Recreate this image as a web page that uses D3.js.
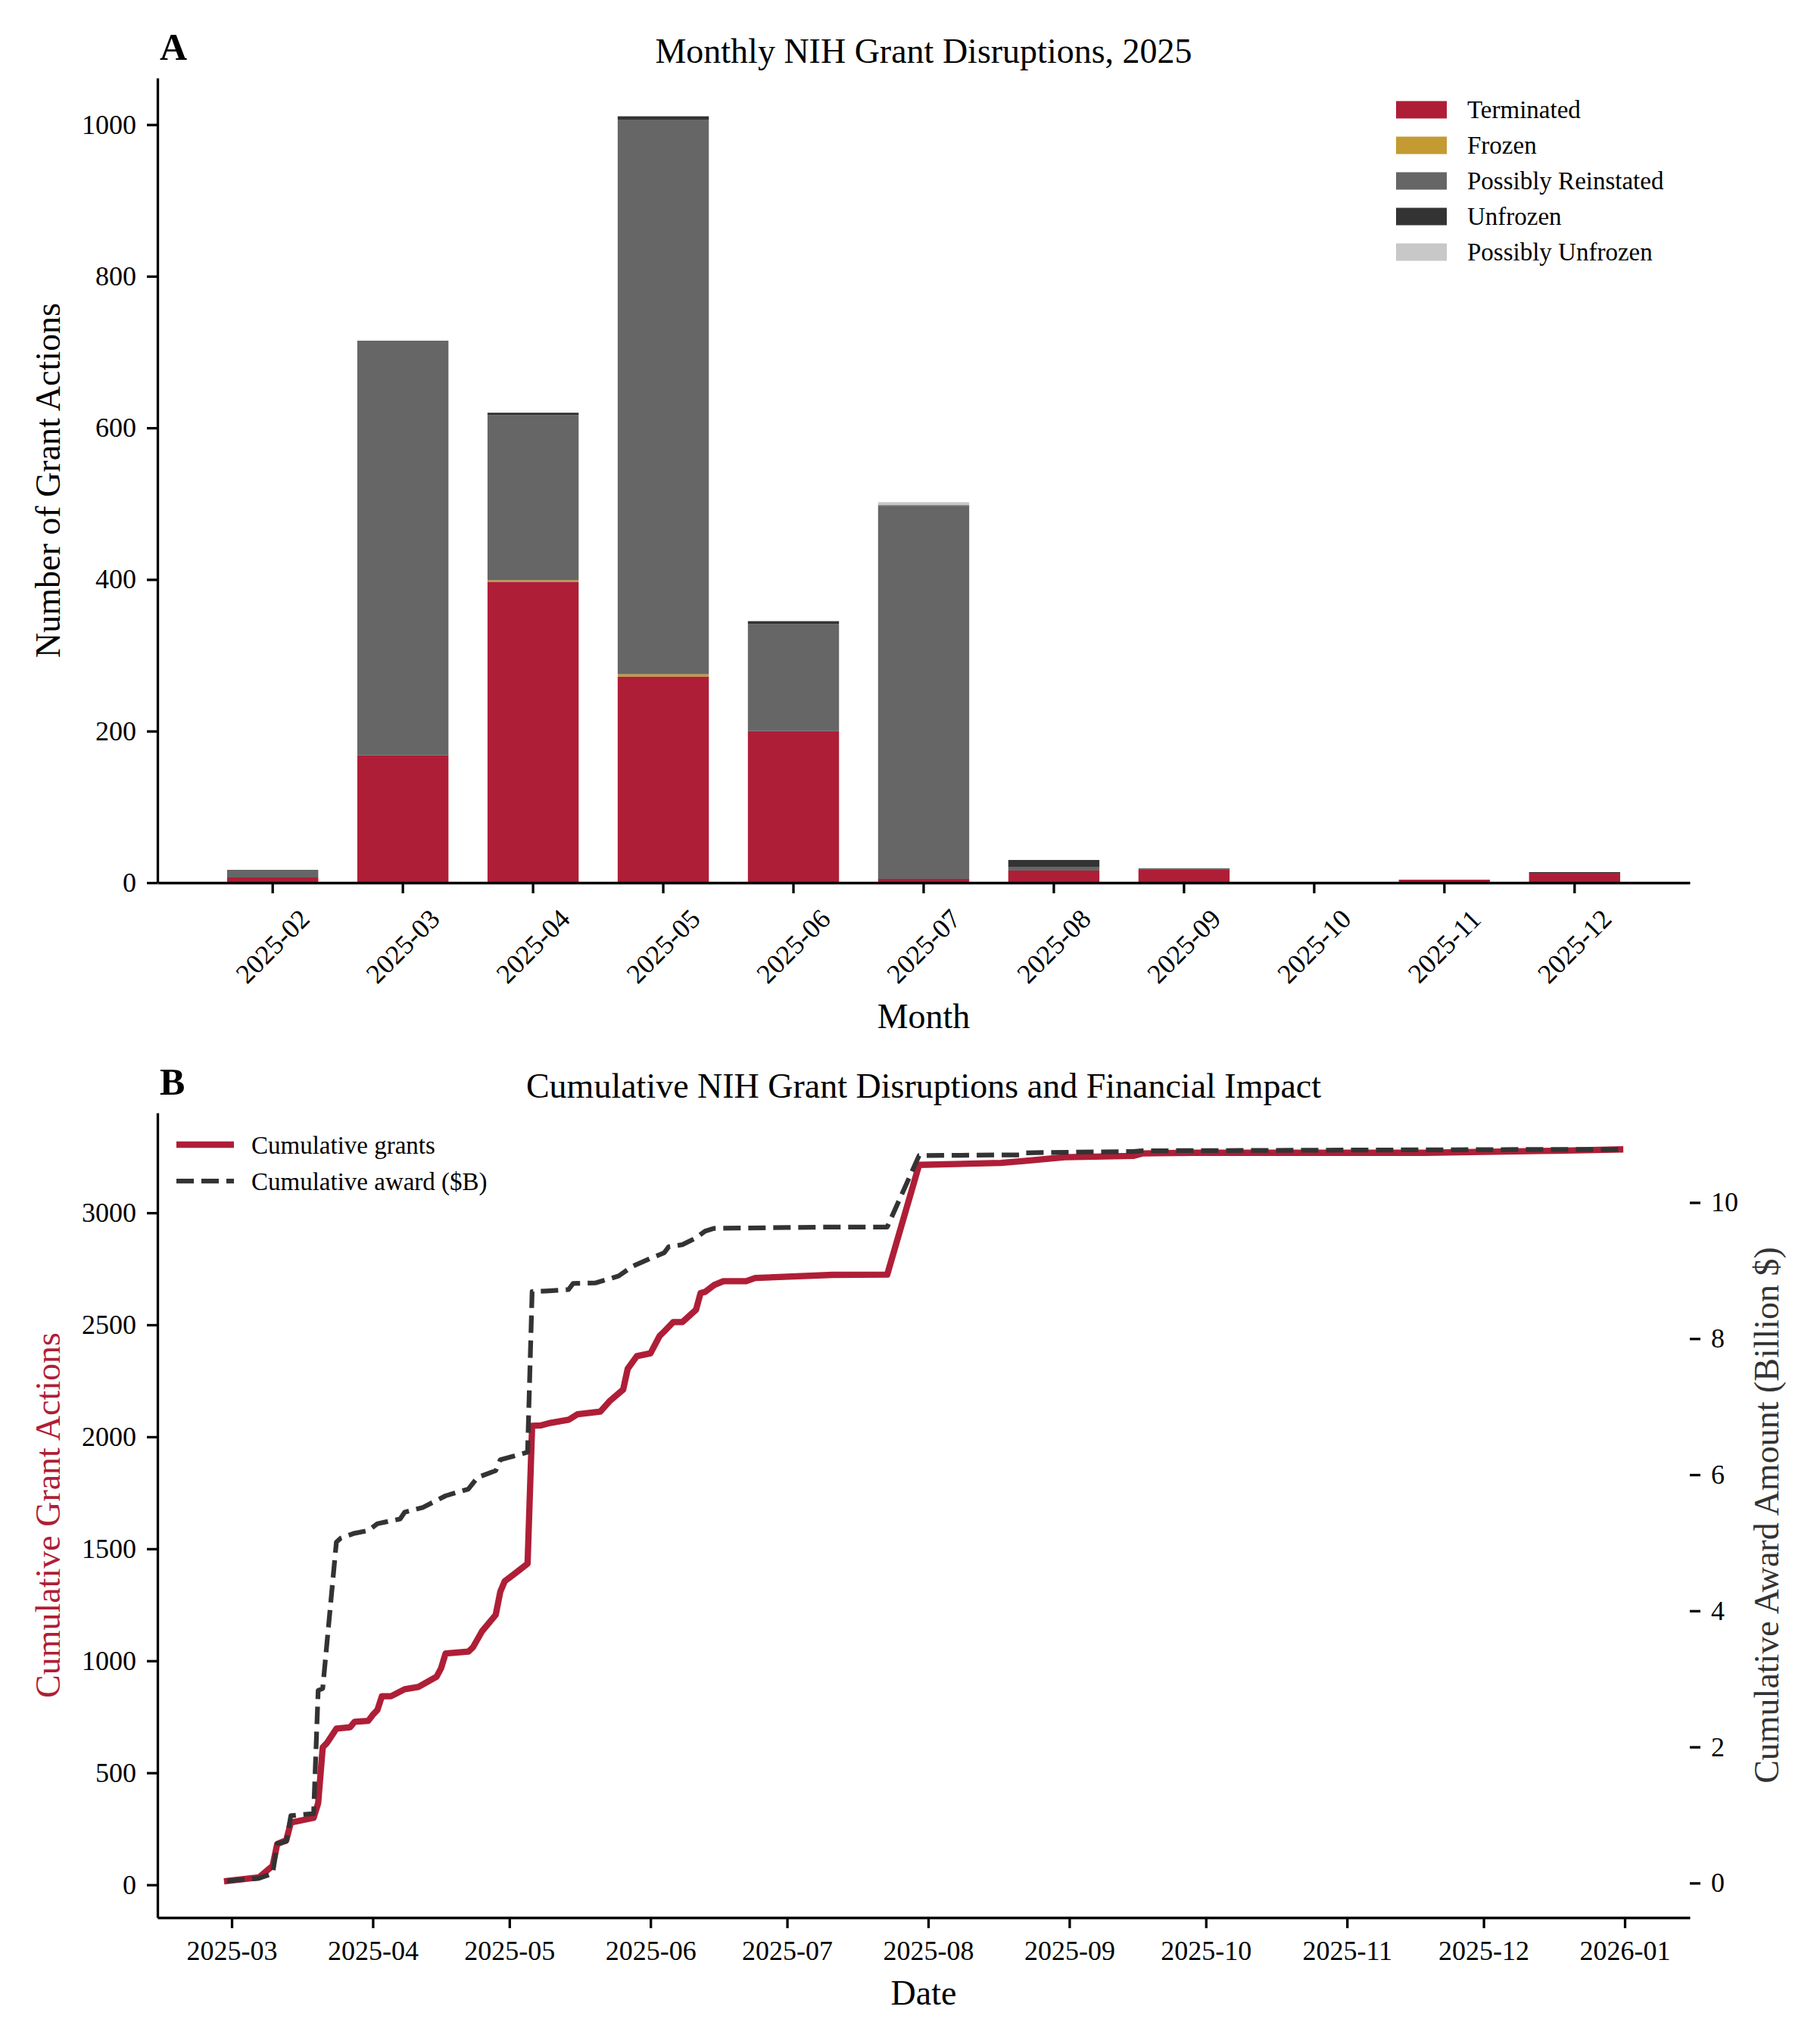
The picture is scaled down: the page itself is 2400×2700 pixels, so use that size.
<!DOCTYPE html>
<html>
<head>
<meta charset="utf-8">
<script src="https://cdn.jsdelivr.net/npm/d3@7"></script>
<style>
  body { margin: 0; background: #fff; }
  svg { display: block; }
</style>
</head>
<body>
<script>
// monthly bars (panel A)
var months = ["2025-02", "2025-03", "2025-04", "2025-05", "2025-06", "2025-07",
  "2025-08", "2025-09", "2025-10", "2025-11", "2025-12"];
var terminated = [7, 168, 397, 272, 200, 5, 16, 17, 0, 4, 13];
var frozen = [0, 0, 2, 3, 0, 0, 0, 0, 0, 0, 0];
var possiblyReinstated = [10, 547, 218, 731, 141, 492, 5, 2, 0, 0, 0];
var unfrozen = [0, 0, 3, 5, 4, 1, 9, 0, 0, 0, 1];
var possiblyUnfrozen = [0, 0, 0, 0, 0, 4, 0, 0, 0, 0, 0];
var yTicksA = [0, 200, 400, 600, 800, 1000];

// cumulative series (panel B)
var grantDates = ["2025-02-28", "2025-03-07", "2025-03-10", "2025-03-11", "2025-03-13", "2025-03-14",
  "2025-03-19", "2025-03-20", "2025-03-21", "2025-03-22", "2025-03-24", "2025-03-27", "2025-03-28",
  "2025-03-31", "2025-04-01", "2025-04-02", "2025-04-03", "2025-04-05", "2025-04-08", "2025-04-11",
  "2025-04-15", "2025-04-16", "2025-04-17", "2025-04-22", "2025-04-23", "2025-04-25", "2025-04-28",
  "2025-04-29", "2025-04-30", "2025-05-01", "2025-05-03", "2025-05-05", "2025-05-06", "2025-05-08",
  "2025-05-10", "2025-05-14", "2025-05-16", "2025-05-21", "2025-05-23", "2025-05-26", "2025-05-27",
  "2025-05-29", "2025-06-01", "2025-06-03", "2025-06-04", "2025-06-06", "2025-06-08", "2025-06-11",
  "2025-06-12", "2025-06-13", "2025-06-15", "2025-06-17", "2025-06-22", "2025-06-24", "2025-07-11",
  "2025-07-23", "2025-07-30", "2025-08-17", "2025-08-22", "2025-08-31", "2025-09-15", "2025-09-17",
  "2025-09-28", "2025-11-18", "2025-12-17", "2025-12-31"];
var cumGrants = [17, 33, 85, 182, 199, 278,
  299, 365, 614, 635, 697, 703, 728,
  732, 759, 780, 842, 842, 873, 883,
  929, 967, 1033, 1041, 1060, 1132, 1205,
  1308, 1356, 1371, 1402, 1434, 2049, 2051,
  2062, 2076, 2101, 2113, 2159, 2211, 2304,
  2360, 2373, 2450, 2470, 2512, 2512, 2567,
  2642, 2647, 2678, 2695, 2695, 2709, 2723,
  2724, 3214, 3223, 3231, 3248, 3254, 3265,
  3268, 3268, 3277, 3283];
var awardDates = ["2025-02-28", "2025-03-07", "2025-03-10", "2025-03-11", "2025-03-13", "2025-03-14",
  "2025-03-19", "2025-03-20", "2025-03-21", "2025-03-24", "2025-03-25", "2025-03-28", "2025-03-31",
  "2025-04-02", "2025-04-07", "2025-04-08", "2025-04-12", "2025-04-17", "2025-04-22", "2025-04-24",
  "2025-04-28", "2025-04-29", "2025-05-05", "2025-05-06", "2025-05-09", "2025-05-14", "2025-05-15",
  "2025-05-20", "2025-05-25", "2025-05-28", "2025-06-01", "2025-06-04", "2025-06-05", "2025-06-08",
  "2025-06-11", "2025-06-13", "2025-06-15", "2025-07-11", "2025-07-23", "2025-07-30", "2025-08-21",
  "2025-08-22", "2025-09-15", "2025-09-17", "2025-12-17", "2025-12-31"];
var cumAward = [0.03, 0.07, 0.14, 0.58, 0.61, 0.99,
  1.02, 2.83, 2.86, 5.01, 5.07, 5.14, 5.18,
  5.28, 5.35, 5.45, 5.52, 5.69, 5.79, 5.96,
  6.06, 6.22, 6.33, 8.69, 8.70, 8.72, 8.81,
  8.82, 8.92, 9.06, 9.18, 9.26, 9.35, 9.38,
  9.48, 9.58, 9.62, 9.64, 9.64, 10.69, 10.70,
  10.73, 10.75, 10.76, 10.78, 10.78];
var yTicksLeft = [0, 500, 1000, 1500, 2000, 2500, 3000];
var yTicksRight = [0, 2, 4, 6, 8, 10];

var keys = ["Terminated", "Frozen", "Possibly Reinstated", "Unfrozen", "Possibly Unfrozen"];
var colors = ["#af1e37", "#c49a32", "#666666", "#333333", "#c8c8c8"];
var red = "#af1e37";
var FONT = "'Liberation Serif', 'Times New Roman', serif";
var fmt = d3.format("d");

var width = 2400;
var height = 2700;
var svg = d3.select("body")
  .append("svg")
  .attr("width", width)
  .attr("height", height)
  .style("font-family", FONT);
svg.append("rect").attr("width", width).attr("height", height).attr("fill", "#fff");

var left = 208, right = 2232;
var a = { top: 103, bottom: 1166 };
var b = { top: 1470, bottom: 2533 };

function styleAxis(g, size) {
  g.selectAll("path, line").attr("stroke", "#000").attr("stroke-width", 3.3);
  g.selectAll("text").attr("font-family", FONT).attr("font-size", size || 36).attr("fill", "#000");
}

// ---------- panel A: stacked bars ----------
var rows = months.map(function (m, i) {
  return {
    month: m,
    "Terminated": terminated[i],
    "Frozen": frozen[i],
    "Possibly Reinstated": possiblyReinstated[i],
    "Unfrozen": unfrozen[i],
    "Possibly Unfrozen": possiblyUnfrozen[i]
  };
});
var series = d3.stack().keys(keys)(rows);
var maxTotal = d3.max(series[series.length - 1], function (d) { return d[1]; });

var x = d3.scaleBand()
  .domain(months)
  .range([left, right])
  .paddingInner(0.3)
  .paddingOuter(0.535);
var y = d3.scaleLinear()
  .domain([0, maxTotal * 1.05])
  .range([a.bottom, a.top]);

svg.append("g")
  .selectAll("g")
  .data(series)
  .enter()
  .append("g")
  .attr("fill", function (d, i) { return colors[i]; })
  .selectAll("rect")
  .data(function (d) { return d; })
  .enter()
  .append("rect")
  .attr("x", function (d) { return x(d.data.month); })
  .attr("width", x.bandwidth())
  .attr("y", function (d) { return y(d[1]); })
  .attr("height", function (d) { return y(d[0]) - y(d[1]); });

var gxA = svg.append("g")
  .attr("transform", "translate(0," + a.bottom + ")")
  .call(d3.axisBottom(x).tickSize(14).tickSizeOuter(0));
styleAxis(gxA);
gxA.selectAll("text")
  .attr("y", null)
  .attr("dy", null)
  .attr("text-anchor", "middle")
  .attr("dominant-baseline", "central")
  .attr("transform", "translate(0,84) rotate(-45)");

var gyA = svg.append("g")
  .attr("transform", "translate(" + left + ",0)")
  .call(d3.axisLeft(y).tickValues(yTicksA).tickFormat(fmt).tickSize(14).tickPadding(14).tickSizeOuter(0));
styleAxis(gyA);

svg.append("text")
  .attr("x", (left + right) / 2)
  .attr("y", 83)
  .attr("text-anchor", "middle")
  .attr("font-size", 46)
  .text("Monthly NIH Grant Disruptions, 2025");
svg.append("text")
  .attr("x", 211)
  .attr("y", 79)
  .attr("font-size", 50)
  .attr("font-weight", "bold")
  .text("A");
svg.append("text")
  .attr("x", (left + right) / 2)
  .attr("y", 1358)
  .attr("text-anchor", "middle")
  .attr("font-size", 46)
  .text("Month");
svg.append("text")
  .attr("transform", "translate(79," + (a.top + a.bottom) / 2 + ") rotate(-90)")
  .attr("text-anchor", "middle")
  .attr("font-size", 46)
  .text("Number of Grant Actions");

// legend A
var legA = svg.append("g")
  .selectAll("g")
  .data(keys)
  .enter()
  .append("g")
  .attr("transform", function (d, i) { return "translate(1844," + (145 + i * 47) + ")"; });
legA.append("rect")
  .attr("y", -11.5)
  .attr("width", 67)
  .attr("height", 23)
  .attr("fill", function (d, i) { return colors[i]; });
legA.append("text")
  .attr("x", 94)
  .attr("y", 11)
  .attr("font-size", 33)
  .text(function (d) { return d; });

// ---------- panel B: cumulative lines ----------
var parse = d3.timeParse("%Y-%m-%d");
var grants = grantDates.map(function (d, i) { return { date: parse(d), v: cumGrants[i] }; });
var award = awardDates.map(function (d, i) { return { date: parse(d), v: cumAward[i] }; });

var tExt = d3.extent(grants.concat(award), function (d) { return d.date; });
var tPad = (tExt[1] - tExt[0]) * 0.05;
var xT = d3.scaleTime()
  .domain([new Date(+tExt[0] - tPad), new Date(+tExt[1] + tPad)])
  .range([left, right]);

var gExt = d3.extent(cumGrants);
var gPad = (gExt[1] - gExt[0]) * 0.05;
var yL = d3.scaleLinear()
  .domain([gExt[0] - gPad, gExt[1] + gPad])
  .range([b.bottom, b.top]);

var aExt = d3.extent(cumAward);
var aPad = (aExt[1] - aExt[0]) * 0.05;
var yR = d3.scaleLinear()
  .domain([aExt[0] - aPad, aExt[1] + aPad])
  .range([b.bottom, b.top]);

svg.append("path")
  .datum(grants)
  .attr("fill", "none")
  .attr("stroke", red)
  .attr("stroke-width", 8.3)
  .attr("stroke-linejoin", "round")
  .attr("stroke-linecap", "square")
  .attr("d", d3.line()
    .x(function (d) { return xT(d.date); })
    .y(function (d) { return yL(d.v); }));

svg.append("path")
  .datum(award)
  .attr("fill", "none")
  .attr("stroke", "#333333")
  .attr("stroke-width", 6.25)
  .attr("stroke-dasharray", "23,10")
  .attr("stroke-linejoin", "round")
  .attr("d", d3.line()
    .x(function (d) { return xT(d.date); })
    .y(function (d) { return yR(d.v); }));

var monthTicks = d3.timeMonth.range(parse("2025-03-01"), parse("2026-01-02"));
var gxB = svg.append("g")
  .attr("transform", "translate(0," + b.bottom + ")")
  .call(d3.axisBottom(xT).tickValues(monthTicks).tickFormat(d3.timeFormat("%Y-%m"))
    .tickSize(14).tickPadding(16).tickSizeOuter(0));
styleAxis(gxB);

var gyB = svg.append("g")
  .attr("transform", "translate(" + left + ",0)")
  .call(d3.axisLeft(yL).tickValues(yTicksLeft).tickFormat(fmt).tickSize(14).tickPadding(14).tickSizeOuter(0));
styleAxis(gyB);

var gyR = svg.append("g")
  .attr("transform", "translate(" + right + ",0)")
  .call(d3.axisRight(yR).tickValues(yTicksRight).tickFormat(fmt).tickSize(14).tickPadding(14).tickSizeOuter(0));
styleAxis(gyR);
gyR.select(".domain").remove();

svg.append("text")
  .attr("x", (left + right) / 2)
  .attr("y", 1450)
  .attr("text-anchor", "middle")
  .attr("font-size", 46)
  .text("Cumulative NIH Grant Disruptions and Financial Impact");
svg.append("text")
  .attr("x", 211)
  .attr("y", 1446)
  .attr("font-size", 50)
  .attr("font-weight", "bold")
  .text("B");
svg.append("text")
  .attr("x", (left + right) / 2)
  .attr("y", 2648)
  .attr("text-anchor", "middle")
  .attr("font-size", 46)
  .text("Date");
svg.append("text")
  .attr("transform", "translate(79," + (b.top + b.bottom) / 2 + ") rotate(-90)")
  .attr("text-anchor", "middle")
  .attr("font-size", 46)
  .attr("fill", red)
  .text("Cumulative Grant Actions");
svg.append("text")
  .attr("transform", "translate(2349," + (b.top + b.bottom) / 2 + ") rotate(-90)")
  .attr("text-anchor", "middle")
  .attr("font-size", 46)
  .attr("fill", "#333333")
  .text("Cumulative Award Amount (Billion $)");

// legend B
var legB = [
  { label: "Cumulative grants", color: red, w: 8.3, dash: null },
  { label: "Cumulative award ($B)", color: "#333333", w: 6.25, dash: "23,10" }
];
var lg = svg.append("g")
  .selectAll("g")
  .data(legB)
  .enter()
  .append("g")
  .attr("transform", function (d, i) { return "translate(233," + (1512 + i * 48) + ")"; });
lg.append("line")
  .attr("x1", 0)
  .attr("x2", 76)
  .attr("stroke", function (d) { return d.color; })
  .attr("stroke-width", function (d) { return d.w; })
  .attr("stroke-dasharray", function (d) { return d.dash; });
lg.append("text")
  .attr("x", 99)
  .attr("y", 12)
  .attr("font-size", 33)
  .text(function (d) { return d.label; });
</script>
</body>
</html>
